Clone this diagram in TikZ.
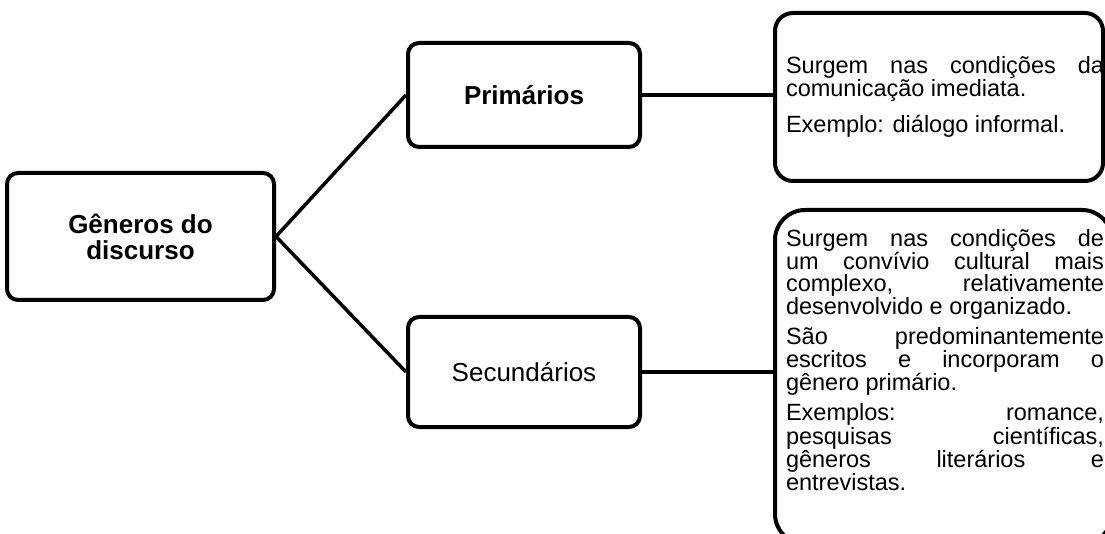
\documentclass[tikz,border=0pt]{standalone}
\usepackage{fontspec}
\setmainfont{Liberation Sans}
\usetikzlibrary{positioning}

\tikzset{
  genbox/.style={draw, line width=4pt, rounded corners=11pt, align=center,
    font=\fontsize{26}{26}\selectfont},
  topic/.style={genbox, font=\fontsize{26}{26}\selectfont\bfseries},
  descbox/.style={draw, line width=4pt, inner xsep=5pt,
    font=\fontsize{23.5}{21.8}\selectfont},
  link/.style={line width=3.5pt}
}

\begin{document}
\begin{tikzpicture}[x=1pt, y=-1pt]
    \clip (0,0) rectangle (1105,534);

    \node[topic, minimum width=267pt, minimum height=127pt] at (140.5,236.5) (genero) {Gêneros do\\discurso};
    \node[topic, minimum width=232pt, minimum height=104pt] at (524,95)  (prim) {Primários};
    \node[genbox, minimum width=232pt, minimum height=110pt] at (524,372) (sec) {Secundários};

    % text runs up to the right border, as in the original
    \node[descbox, rounded corners=18pt, minimum height=168pt] at (939,97) (primdesc) {%
      \hspace*{6pt}\begin{minipage}{318pt}\parskip=12pt
        Surgem nas condições da\linebreak comunicação imediata.\par
        Exemplo: diálogo informal.
      \end{minipage}\hspace*{-6pt}};
    \node[descbox, rounded corners=30pt, inner ysep=19pt, minimum width=337pt, anchor=north] at (943.5,208) (secdesc) {%
      \hspace*{1.5pt}\begin{minipage}[c][296pt][t]{318pt}\parskip=7.5pt
        Surgem nas condições de\linebreak um convívio cultural mais\linebreak
        complexo, relativamente\linebreak desenvolvido e organizado.\par
        São predominantemente\linebreak escritos e incorporam o\linebreak gênero primário.\par
        Exemplos: romance,\linebreak pesquisas científicas,\linebreak
        gêneros literários e\linebreak entrevistas.
      \end{minipage}\hspace*{-1.5pt}};

    \draw[link] (genero.east) -- (prim.west);
    \draw[link] (genero.east) -- (sec.west);
    \draw[link] (prim.east) -- (prim.east -| primdesc.west);
    \draw[link] (sec.east) -- (sec.east -| secdesc.west);
\end{tikzpicture}
\end{document}
